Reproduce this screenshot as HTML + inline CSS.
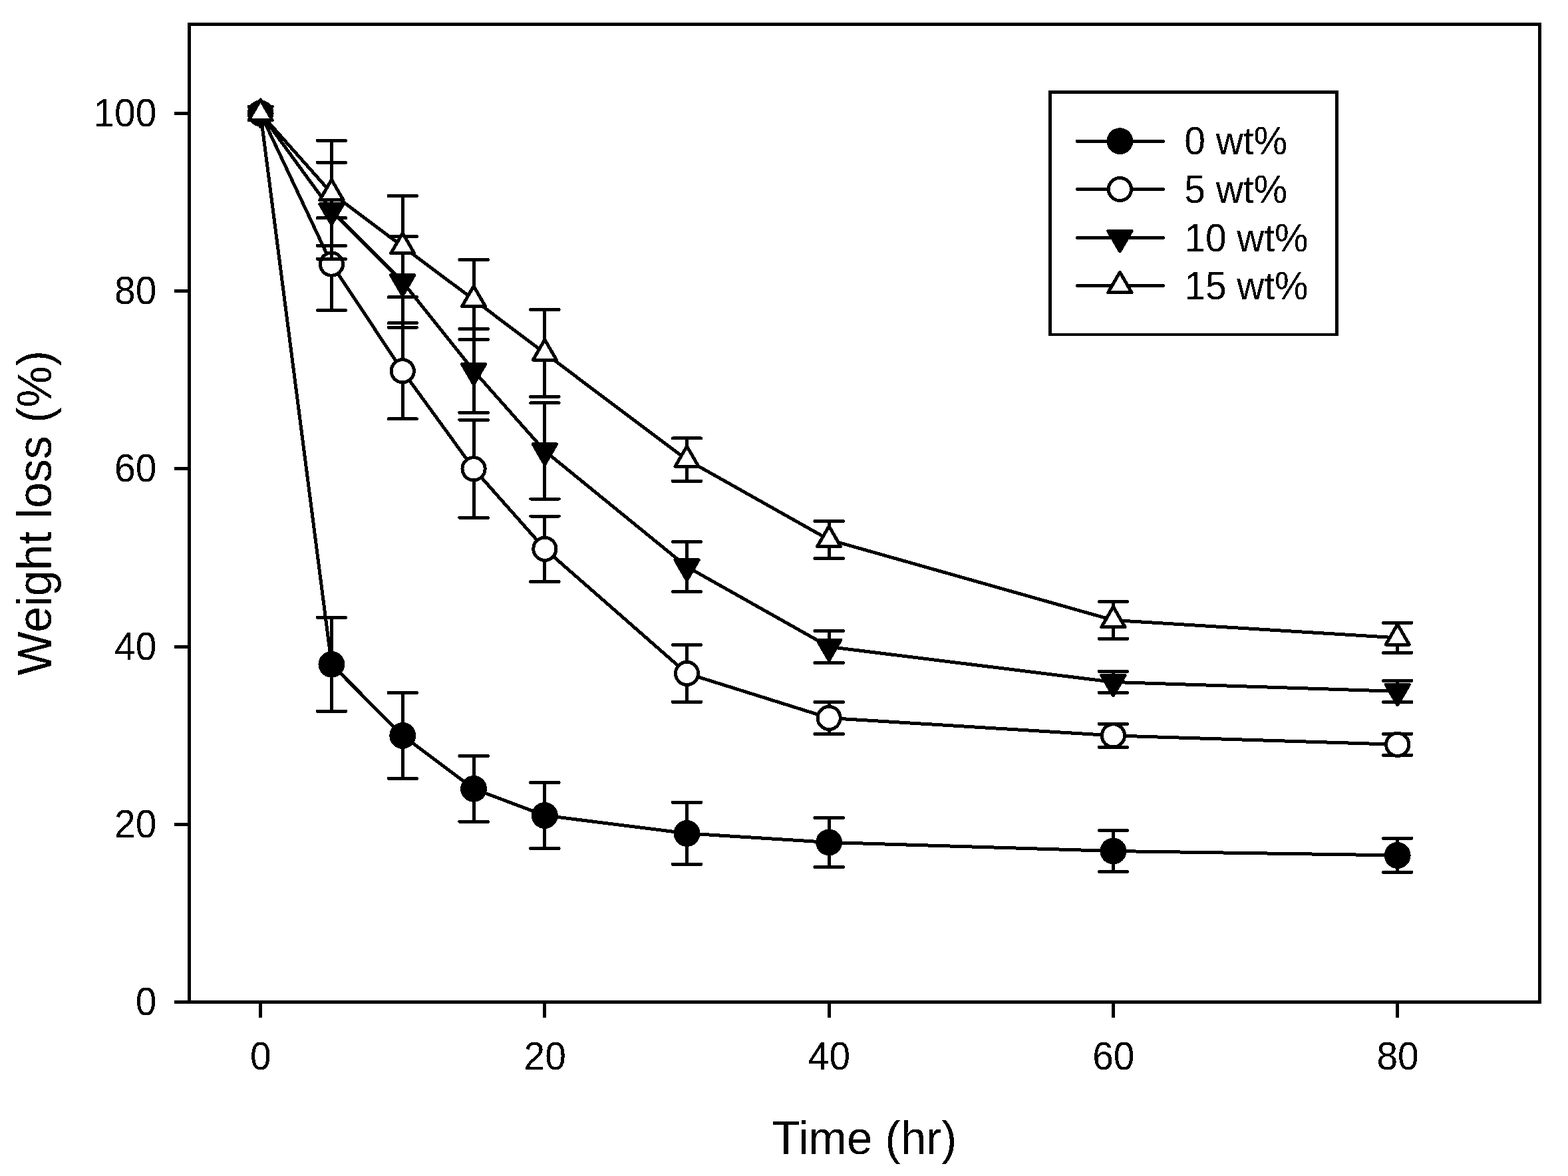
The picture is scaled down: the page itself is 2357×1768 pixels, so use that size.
<!DOCTYPE html>
<html><head><meta charset="utf-8"><title>Weight loss chart</title>
<style>html,body{margin:0;padding:0;background:#fff;}svg{display:block;}</style>
</head><body>
<svg width="2357" height="1768" viewBox="0 0 2357 1768" shape-rendering="crispEdges">
<defs><filter id="bin" x="-5%" y="-20%" width="110%" height="140%"><feComponentTransfer><feFuncA type="discrete" tableValues="0 1"/></feComponentTransfer></filter></defs>
<rect x="284.42" y="36.4" width="2030.04" height="1470.05" fill="none" stroke="#000" stroke-width="5"/>
<path d="M262 1506.45H284.42M262 1239.23H284.42M262 972.01H284.42M262 704.79H284.42M262 437.57H284.42M262 170.35H284.42M391.6 1506.45V1529.5M818.88 1506.45V1529.5M1246.16 1506.45V1529.5M1673.44 1506.45V1529.5M2100.72 1506.45V1529.5" stroke="#000" stroke-width="5" fill="none"/>
<text filter="url(#bin)" transform="translate(235.3,1526.05) scale(0.96,1)" text-anchor="end" font-size="59.2" font-family="'Liberation Sans', Arial, sans-serif">0</text>
<text filter="url(#bin)" transform="translate(235.3,1258.83) scale(0.96,1)" text-anchor="end" font-size="59.2" font-family="'Liberation Sans', Arial, sans-serif">20</text>
<text filter="url(#bin)" transform="translate(235.3,991.61) scale(0.96,1)" text-anchor="end" font-size="59.2" font-family="'Liberation Sans', Arial, sans-serif">40</text>
<text filter="url(#bin)" transform="translate(235.3,724.39) scale(0.96,1)" text-anchor="end" font-size="59.2" font-family="'Liberation Sans', Arial, sans-serif">60</text>
<text filter="url(#bin)" transform="translate(235.3,457.17) scale(0.96,1)" text-anchor="end" font-size="59.2" font-family="'Liberation Sans', Arial, sans-serif">80</text>
<text filter="url(#bin)" transform="translate(235.3,189.95) scale(0.96,1)" text-anchor="end" font-size="59.2" font-family="'Liberation Sans', Arial, sans-serif">100</text>
<text filter="url(#bin)" transform="translate(391.9,1608.2) scale(0.96,1)" text-anchor="middle" font-size="59.2" font-family="'Liberation Sans', Arial, sans-serif">0</text>
<text filter="url(#bin)" transform="translate(819.18,1608.2) scale(0.96,1)" text-anchor="middle" font-size="59.2" font-family="'Liberation Sans', Arial, sans-serif">20</text>
<text filter="url(#bin)" transform="translate(1246.46,1608.2) scale(0.96,1)" text-anchor="middle" font-size="59.2" font-family="'Liberation Sans', Arial, sans-serif">40</text>
<text filter="url(#bin)" transform="translate(1673.74,1608.2) scale(0.96,1)" text-anchor="middle" font-size="59.2" font-family="'Liberation Sans', Arial, sans-serif">60</text>
<text filter="url(#bin)" transform="translate(2101.02,1608.2) scale(0.96,1)" text-anchor="middle" font-size="59.2" font-family="'Liberation Sans', Arial, sans-serif">80</text>
<text filter="url(#bin)" transform="translate(1299.2,1735.3) scale(0.98,1)" text-anchor="middle" font-size="70.6" font-family="'Liberation Sans', Arial, sans-serif">Time (hr)</text>
<text filter="url(#bin)" transform="translate(76.8,771.3) rotate(-90) scale(0.98,1)" x="0" y="0" text-anchor="middle" font-size="71.4" font-family="'Liberation Sans', Arial, sans-serif">Weight loss (%)</text>
<polyline points="391.6,170.35 498.42,998.8 605.24,1105.95 712.06,1185.9 818.88,1226 1032.52,1252.9 1246.16,1266.45 1673.44,1279.5 2100.72,1285.95" fill="none" stroke="#000" stroke-width="5" stroke-linejoin="round"/>
<path d="M498.42 928.4V1069.2M477.22 928.4H519.62M477.22 1069.2H519.62M605.24 1041.5V1170.4M584.04 1041.5H626.44M584.04 1170.4H626.44M712.06 1136.5V1235.3M690.86 1136.5H733.26M690.86 1235.3H733.26M818.88 1176.5V1275.5M797.68 1176.5H840.08M797.68 1275.5H840.08M1032.52 1206.4V1299.4M1011.32 1206.4H1053.72M1011.32 1299.4H1053.72M1246.16 1229.4V1303.5M1224.96 1229.4H1267.36M1224.96 1303.5H1267.36M1673.44 1248.5V1310.5M1652.24 1248.5H1694.64M1652.24 1310.5H1694.64M2100.72 1260.45V1311.45M2079.52 1260.45H2121.92M2079.52 1311.45H2121.92" fill="none" stroke="#000" stroke-width="5" stroke-linecap="round"/>
<circle cx="391.6" cy="170.35" r="19.95" fill="#000"/>
<circle cx="498.42" cy="998.8" r="19.95" fill="#000"/>
<circle cx="605.24" cy="1105.95" r="19.95" fill="#000"/>
<circle cx="712.06" cy="1185.9" r="19.95" fill="#000"/>
<circle cx="818.88" cy="1226" r="19.95" fill="#000"/>
<circle cx="1032.52" cy="1252.9" r="19.95" fill="#000"/>
<circle cx="1246.16" cy="1266.45" r="19.95" fill="#000"/>
<circle cx="1673.44" cy="1279.5" r="19.95" fill="#000"/>
<circle cx="2100.72" cy="1285.95" r="19.95" fill="#000"/>
<polyline points="391.6,170.35 498.42,397.1 605.24,557.75 712.06,704.8 818.88,825.25 1032.52,1012.4 1246.16,1079.45 1673.44,1105.9 2100.72,1119.35" fill="none" stroke="#000" stroke-width="5" stroke-linejoin="round"/>
<path d="M498.42 327.7V466.5M477.22 327.7H519.62M477.22 466.5H519.62M605.24 485.6V629.9M584.04 485.6H626.44M584.04 629.9H626.44M712.06 631.3V778.3M690.86 631.3H733.26M690.86 778.3H733.26M818.88 776V874.5M797.68 776H840.08M797.68 874.5H840.08M1032.52 969.5V1055.3M1011.32 969.5H1053.72M1011.32 1055.3H1053.72M1246.16 1055.45V1103.45M1224.96 1055.45H1267.36M1224.96 1103.45H1267.36M1673.44 1088.4V1123.4M1652.24 1088.4H1694.64M1652.24 1123.4H1694.64M2100.72 1103.35V1135.35M2079.52 1103.35H2121.92M2079.52 1135.35H2121.92" fill="none" stroke="#000" stroke-width="5" stroke-linecap="round"/>
<circle cx="391.6" cy="170.35" r="17.1" fill="#fff" stroke="#000" stroke-width="5"/>
<circle cx="498.42" cy="397.1" r="17.1" fill="#fff" stroke="#000" stroke-width="5"/>
<circle cx="605.24" cy="557.75" r="17.1" fill="#fff" stroke="#000" stroke-width="5"/>
<circle cx="712.06" cy="704.8" r="17.1" fill="#fff" stroke="#000" stroke-width="5"/>
<circle cx="818.88" cy="825.25" r="17.1" fill="#fff" stroke="#000" stroke-width="5"/>
<circle cx="1032.52" cy="1012.4" r="17.1" fill="#fff" stroke="#000" stroke-width="5"/>
<circle cx="1246.16" cy="1079.45" r="17.1" fill="#fff" stroke="#000" stroke-width="5"/>
<circle cx="1673.44" cy="1105.9" r="17.1" fill="#fff" stroke="#000" stroke-width="5"/>
<circle cx="2100.72" cy="1119.35" r="17.1" fill="#fff" stroke="#000" stroke-width="5"/>
<polyline points="391.6,170.35 498.42,316.9 605.24,423.75 712.06,557.45 818.88,677.95 1032.52,852.05 1246.16,972.4 1673.44,1025.45 2100.72,1039.4" fill="none" stroke="#000" stroke-width="5" stroke-linejoin="round"/>
<path d="M498.42 244.4V389.4M477.22 244.4H519.62M477.22 389.4H519.62M605.24 355.4V492.1M584.04 355.4H626.44M584.04 492.1H626.44M712.06 494.5V620.4M690.86 494.5H733.26M690.86 620.4H733.26M818.88 605.9V750M797.68 605.9H840.08M797.68 750H840.08M1032.52 814.55V889.55M1011.32 814.55H1053.72M1011.32 889.55H1053.72M1246.16 948.4V996.4M1224.96 948.4H1267.36M1224.96 996.4H1267.36M1673.44 1009.45V1041.45M1652.24 1009.45H1694.64M1652.24 1041.45H1694.64M2100.72 1023.3V1055.5M2079.52 1023.3H2121.92M2079.52 1055.5H2121.92" fill="none" stroke="#000" stroke-width="5" stroke-linecap="round"/>
<polygon points="391.6,190.65 409.18,160.2 374.02,160.2" fill="#000" stroke="#000" stroke-width="5" stroke-linejoin="round"/>
<polygon points="498.42,337.2 516,306.75 480.84,306.75" fill="#000" stroke="#000" stroke-width="5" stroke-linejoin="round"/>
<polygon points="605.24,444.05 622.82,413.6 587.66,413.6" fill="#000" stroke="#000" stroke-width="5" stroke-linejoin="round"/>
<polygon points="712.06,577.75 729.64,547.3 694.48,547.3" fill="#000" stroke="#000" stroke-width="5" stroke-linejoin="round"/>
<polygon points="818.88,698.25 836.46,667.8 801.3,667.8" fill="#000" stroke="#000" stroke-width="5" stroke-linejoin="round"/>
<polygon points="1032.52,872.35 1050.1,841.9 1014.94,841.9" fill="#000" stroke="#000" stroke-width="5" stroke-linejoin="round"/>
<polygon points="1246.16,992.7 1263.74,962.25 1228.58,962.25" fill="#000" stroke="#000" stroke-width="5" stroke-linejoin="round"/>
<polygon points="1673.44,1045.75 1691.02,1015.3 1655.86,1015.3" fill="#000" stroke="#000" stroke-width="5" stroke-linejoin="round"/>
<polygon points="2100.72,1059.7 2118.3,1029.25 2083.14,1029.25" fill="#000" stroke="#000" stroke-width="5" stroke-linejoin="round"/>
<polyline points="391.6,170.35 498.42,290.4 605.24,370.65 712.06,450.45 818.88,530.9 1032.52,691.15 1246.16,811.4 1673.44,932.4 2100.72,958.9" fill="none" stroke="#000" stroke-width="5" stroke-linejoin="round"/>
<path d="M498.42 211.4V369.4M477.22 211.4H519.62M477.22 369.4H519.62M605.24 294.5V446.8M584.04 294.5H626.44M584.04 446.8H626.44M712.06 390.5V510.4M690.86 390.5H733.26M690.86 510.4H733.26M818.88 465.5V596.3M797.68 465.5H840.08M797.68 596.3H840.08M1032.52 658.9V723.4M1011.32 658.9H1053.72M1011.32 723.4H1053.72M1246.16 783.4V839.4M1224.96 783.4H1267.36M1224.96 839.4H1267.36M1673.44 904.5V960.3M1652.24 904.5H1694.64M1652.24 960.3H1694.64M2100.72 936.4V981.4M2079.52 936.4H2121.92M2079.52 981.4H2121.92" fill="none" stroke="#000" stroke-width="5" stroke-linecap="round"/>
<polygon points="391.6,150.05 409.18,180.5 374.02,180.5" fill="#fff" stroke="#000" stroke-width="5" stroke-linejoin="round"/>
<polygon points="498.42,270.1 516,300.55 480.84,300.55" fill="#fff" stroke="#000" stroke-width="5" stroke-linejoin="round"/>
<polygon points="605.24,350.35 622.82,380.8 587.66,380.8" fill="#fff" stroke="#000" stroke-width="5" stroke-linejoin="round"/>
<polygon points="712.06,430.15 729.64,460.6 694.48,460.6" fill="#fff" stroke="#000" stroke-width="5" stroke-linejoin="round"/>
<polygon points="818.88,510.6 836.46,541.05 801.3,541.05" fill="#fff" stroke="#000" stroke-width="5" stroke-linejoin="round"/>
<polygon points="1032.52,670.85 1050.1,701.3 1014.94,701.3" fill="#fff" stroke="#000" stroke-width="5" stroke-linejoin="round"/>
<polygon points="1246.16,791.1 1263.74,821.55 1228.58,821.55" fill="#fff" stroke="#000" stroke-width="5" stroke-linejoin="round"/>
<polygon points="1673.44,912.1 1691.02,942.55 1655.86,942.55" fill="#fff" stroke="#000" stroke-width="5" stroke-linejoin="round"/>
<polygon points="2100.72,938.6 2118.3,969.05 2083.14,969.05" fill="#fff" stroke="#000" stroke-width="5" stroke-linejoin="round"/>
<rect x="1578.4" y="138.6" width="430.85" height="364.5" fill="#fff" stroke="#000" stroke-width="4.7"/>
<path d="M1619.4 212.2H1748.5" stroke="#000" stroke-width="5" stroke-linecap="round"/>
<circle cx="1683.4" cy="212.2" r="19.95" fill="#000"/>
<text filter="url(#bin)" transform="translate(1780.3,232.4) scale(0.96,1)" text-anchor="start" font-size="59.2" font-family="'Liberation Sans', Arial, sans-serif">0 wt%</text>
<path d="M1619.4 284.5H1748.5" stroke="#000" stroke-width="5" stroke-linecap="round"/>
<circle cx="1683.4" cy="284.5" r="17.1" fill="#fff" stroke="#000" stroke-width="5"/>
<text filter="url(#bin)" transform="translate(1780.3,304.7) scale(0.96,1)" text-anchor="start" font-size="59.2" font-family="'Liberation Sans', Arial, sans-serif">5 wt%</text>
<path d="M1619.4 357.5H1748.5" stroke="#000" stroke-width="5" stroke-linecap="round"/>
<polygon points="1683.4,377.8 1700.98,347.35 1665.82,347.35" fill="#000" stroke="#000" stroke-width="5" stroke-linejoin="round"/>
<text filter="url(#bin)" transform="translate(1780.3,377.7) scale(0.96,1)" text-anchor="start" font-size="59.2" font-family="'Liberation Sans', Arial, sans-serif">10 wt%</text>
<path d="M1619.4 429.45H1748.5" stroke="#000" stroke-width="5" stroke-linecap="round"/>
<polygon points="1683.4,409.15 1700.98,439.6 1665.82,439.6" fill="#fff" stroke="#000" stroke-width="5" stroke-linejoin="round"/>
<text filter="url(#bin)" transform="translate(1780.3,449.65) scale(0.96,1)" text-anchor="start" font-size="59.2" font-family="'Liberation Sans', Arial, sans-serif">15 wt%</text>
</svg>
</body></html>
